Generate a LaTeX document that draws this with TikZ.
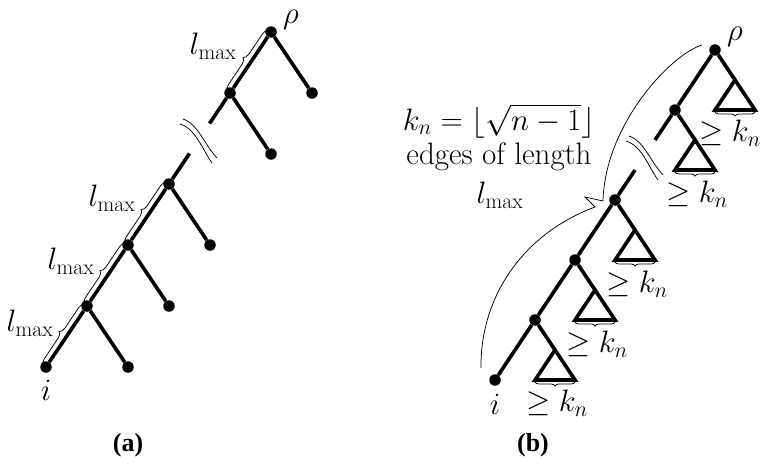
\RequirePackage{fix-cm}
\documentclass[tikz,border=0pt]{standalone}
\usepackage{fontspec}
\newfontfamily\capfont{Liberation Serif}
\usetikzlibrary{decorations.pathreplacing}
\begin{document}
\begin{tikzpicture}[x=1pt,y=-1pt,
  edge/.style={line width=3.6pt},
  dot/.style={circle,fill,inner sep=0pt,minimum size=11.5pt},
  lbl/.style={font=\fontsize{31}{37}\selectfont, inner sep=0pt},
  captxt/.style={font=\capfont\bfseries\fontsize{26}{30}\selectfont, inner sep=0pt},
  thinln/.style={line width=0.75pt},
  brc/.style={decorate,decoration={brace,amplitude=6pt,raise=3pt},line width=0.75pt},
  sbrc/.style={decorate,decoration={brace,amplitude=4pt,raise=2pt},line width=0.75pt},
  brk/.pic={
    \draw[line width=0.75pt] (-18,-17) .. controls (-2,-12) and (4,8) .. (14,22);
    \draw[line width=0.75pt] (-15,-22) .. controls (0,-17) and (6,3) .. (19,17);
  }
]
\useasboundingbox (0,0) rectangle (760,463);

% ---------------- panel (a) ----------------
\node[dot] (a1) at (271,32) {};
\node[dot] (a1r) at (312,93) {};
\node[dot] (a2) at (230,93) {};
\node[dot] (a2r) at (271,154) {};
\coordinate (a2l) at (209.5,123.5);
\coordinate (a3u) at (189.5,153.5);
\node[dot] (a3) at (169,184) {};
\node[dot] (a3r) at (210,245) {};
\node[dot] (a4) at (128,245) {};
\node[dot] (a4r) at (169,306) {};
\node[dot] (a5) at (87,306) {};
\node[dot] (a5r) at (128,367) {};
\node[dot] (ai) at (46,367) {};

\draw[edge] (a1) -- (a1r);
\draw[edge] (a1) -- (a2);
\draw[edge] (a2) -- (a2r);
\draw[edge] (a2) -- (a2l);
\draw[edge] (a3u) -- (a3);
\draw[edge] (a3) -- (a3r);
\draw[edge] (a3) -- (a4);
\draw[edge] (a4) -- (a4r);
\draw[edge] (a4) -- (a5);
\draw[edge] (a5) -- (a5r);
\draw[edge] (a5) -- (ai);

\draw[brc] (a2.center) -- (a1.center);
\draw[brc] (a4.center) -- (a3.center);
\draw[brc] (a5.center) -- (a4.center);
\draw[brc] (ai.center) -- (a5.center);

\node[lbl] (la1) at (213,46) {$l_{\max}$};
\node[lbl] (la2) at (112,198) {$l_{\max}$};
\node[lbl] (la3) at (71,261) {$l_{\max}$};
\node[lbl] (la4) at (30,323) {$l_{\max}$};

\node[lbl] (rhoa) at (291,20) {$\rho$};
\node[lbl] (ia) at (46,390) {$i$};

\pic at (198,141) {brk};

\node[captxt] (capa) at (128,445) {(a)};

% ---------------- panel (b) ----------------
\node[dot] (b1) at (715,50) {};
\coordinate (b1t) at (735,80);
\coordinate (b1tl) at (715,110);
\coordinate (b1tr) at (755,110);
\node[dot] (b2) at (675,110) {};
\coordinate (b2l) at (655,140);
\coordinate (b2t) at (695,140);
\coordinate (b2tl) at (675,170);
\coordinate (b2tr) at (715,170);
\coordinate (b3u) at (635,170);
\node[dot] (b3) at (615,200) {};
\coordinate (b3t) at (635,230);
\coordinate (b3tl) at (615,260);
\coordinate (b3tr) at (655,260);
\node[dot] (b4) at (575,260) {};
\coordinate (b4t) at (595,290);
\coordinate (b4tl) at (575,320);
\coordinate (b4tr) at (615,320);
\node[dot] (b5) at (535,320) {};
\coordinate (b5t) at (555,350);
\coordinate (b5tl) at (535,380);
\coordinate (b5tr) at (575,380);
\node[dot] (bi) at (495,380) {};

\draw[edge] (b1) -- (b1t);
\draw[edge] (b1) -- (b2);
\draw[edge] (b2) -- (b2t);
\draw[edge] (b2) -- (b2l);
\draw[edge] (b3u) -- (b3);
\draw[edge] (b3) -- (b3t);
\draw[edge] (b3) -- (b4);
\draw[edge] (b4) -- (b4t);
\draw[edge] (b4) -- (b5);
\draw[edge] (b5) -- (b5t);
\draw[edge] (b5) -- (bi);

\foreach \t in {b1,b2,b3,b4,b5}{
  \draw[edge] (\t t) -- (\t tl) -- (\t tr) -- cycle;
  \draw[sbrc] (\t tr) -- (\t tl);
}

\node[lbl] (kb1) at (730,133) {$\geq k_n$};
\node[lbl] (kb2) at (697,194) {$\geq k_n$};
\node[lbl] (kb3) at (637,284) {$\geq k_n$};
\node[lbl] (kb4) at (597,344) {$\geq k_n$};
\node[lbl] (kb5) at (557,403) {$\geq k_n$};

\node[lbl] (rhob) at (735,37) {$\rho$};
\node[lbl] (ib) at (495,404) {$i$};

\pic at (644,158) {brk};

\coordinate (bt) at (702,45);
\coordinate (btip) at (585,197);
\coordinate (bb) at (481,368);
\draw[thinln] (bt) .. controls (670,55) and (605,125) .. (603,201) -- (btip) -- (595,207) .. controls (520,235) and (480,300) .. (bb);

\node[lbl] (t1) at (499,121) {$k_n = \lfloor\sqrt{n-1}\rfloor$};
\node[lbl] (t2) at (499,157) {edges of length};
\node[lbl] (t3) at (500,195) {$l_{\max}$};

\node[captxt] (capb) at (533,445) {(b)};
\end{tikzpicture}
\end{document}
